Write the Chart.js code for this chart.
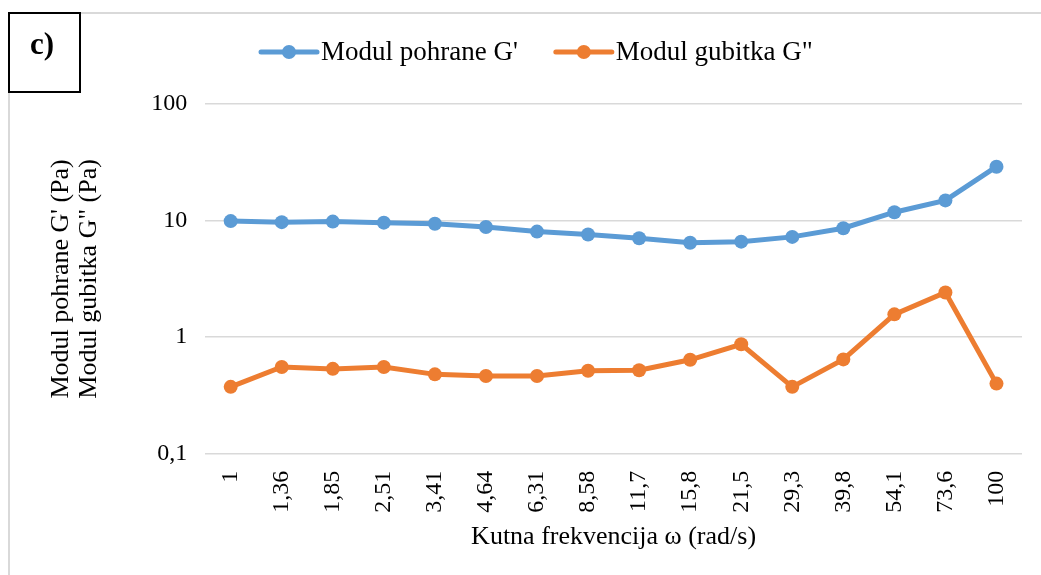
<!DOCTYPE html>
<html>
<head>
<meta charset="utf-8">
<script src="https://cdn.jsdelivr.net/npm/chart.js@4.4.1/dist/chart.umd.min.js"></script>
<style>
  body { margin: 0; background: #fff; }
</style>
</head>
<body>
<canvas id="reologija" width="1041" height="575"></canvas>
<script>
// kutna frekvencija (rad/s) - kategorije na x osi
frekvencije = ['1', '1,36', '1,85', '2,51', '3,41', '4,64', '6,31', '8,58', '11,7', '15,8', '21,5', '29,3', '39,8', '54,1', '73,6', '100']

// G' - modul pohrane (Pa), ocitano sa slike
modulPohrane = [9.9, 9.7, 9.8, 9.6, 9.4, 8.8, 8.05, 7.6, 7.05, 6.45, 6.6, 7.25, 8.6, 11.8, 14.9, 29]

// G" - modul gubitka (Pa)
modulGubitka = [0.375, 0.555, 0.535, 0.555, 0.48, 0.465, 0.465, 0.515, 0.52, 0.64, 0.87, 0.375, 0.645, 1.57, 2.42, 0.4]

// oznake na y osi (log skala)
yTickValues = [0.1, 1, 10, 100]
yTickLabels = ['0,1', '1', '10', '100']

font = '"Liberation Serif", "Times New Roman", serif'

// okvir grafa i oznaka "c)"
okvirPlugin = {
  id: 'okvir',
  beforeDraw(chart) {
    ctx = chart.ctx
    ctx.save()
    ctx.fillStyle = '#fff'
    ctx.fillRect(0, 0, chart.width, chart.height)
    ctx.strokeStyle = '#d9d9d9'
    ctx.lineWidth = 2
    ctx.strokeRect(9, 13, 1200, 800)
    ctx.restore()
  },
  afterDraw(chart) {
    ctx = chart.ctx
    ctx.save()
    ctx.fillStyle = '#fff'
    ctx.fillRect(8, 12, 73, 81)
    ctx.strokeStyle = '#000'
    ctx.lineWidth = 2
    ctx.strokeRect(9, 13, 71, 79)
    ctx.fillStyle = '#000'
    ctx.font = 'bold 31px ' + font
    ctx.textAlign = 'center'
    ctx.textBaseline = 'middle'
    ctx.fillText('c)', 42, 46)
    ctx.restore()
  }
}

// legenda kao u Excelu: linija s kruzicem pa tekst
legendaPlugin = {
  id: 'legenda',
  afterDraw(chart) {
    ctx = chart.ctx
    ctx.save()
    ctx.font = '27px ' + font
    ctx.textBaseline = 'middle'
    x = 261
    y = 52
    chart.data.datasets.forEach(ds => {
      ctx.strokeStyle = ds.borderColor
      ctx.lineWidth = 5
      ctx.lineCap = 'round'
      ctx.beginPath()
      ctx.moveTo(x, y)
      ctx.lineTo(x + 56, y)
      ctx.stroke()
      ctx.fillStyle = ds.borderColor
      ctx.beginPath()
      ctx.arc(x + 28, y, 7, 0, Math.PI * 2)
      ctx.fill()
      ctx.fillStyle = '#000'
      ctx.fillText(ds.label, x + 60, y + 1)
      x += 60 + ctx.measureText(ds.label).width + 38
    })
    ctx.restore()
  }
}

chartdata = {
  labels: frekvencije,
  datasets: [{
    label: "Modul pohrane G'",
    data: modulPohrane,
    borderColor: '#5b9bd5',
    backgroundColor: '#5b9bd5',
    borderWidth: 5,
    pointRadius: 7,
    pointBorderWidth: 0,
    pointBackgroundColor: '#5b9bd5'
  }, {
    label: 'Modul gubitka G"',
    data: modulGubitka,
    borderColor: '#ed7d31',
    backgroundColor: '#ed7d31',
    borderWidth: 5,
    pointRadius: 7,
    pointBorderWidth: 0,
    pointBackgroundColor: '#ed7d31'
  }]
}

config = {
  type: 'line',
  data: chartdata,
  plugins: [okvirPlugin, legendaPlugin],
  options: {
    responsive: false,
    animation: false,
    layout: { padding: { top: 104, left: 47, right: 19, bottom: 22 } },
    plugins: {
      legend: { display: false },
      tooltip: { enabled: false }
    },
    scales: {
      x: {
        offset: true,
        grid: { display: false },
        border: { display: false },
        ticks: {
          autoSkip: false,
          minRotation: 90,
          maxRotation: 90,
          padding: 9,
          color: '#000',
          font: { family: font, size: 24 }
        },
        title: {
          display: true,
          text: 'Kutna frekvencija ω (rad/s)',
          color: '#000',
          padding: { top: 0, bottom: 0 },
          font: { family: font, size: 26 }
        }
      },
      y: {
        type: 'logarithmic',
        min: 0.1,
        max: 100,
        afterBuildTicks: axis => {
          axis.ticks = yTickValues.map(v => ({ value: v }))
        },
        grid: { color: '#d9d9d9', lineWidth: 1.5, drawTicks: false },
        border: { display: false },
        ticks: {
          padding: 18,
          color: '#000',
          font: { family: font, size: 24 },
          callback: (v) => yTickLabels[yTickValues.indexOf(v)]
        },
        title: {
          display: true,
          text: ["Modul pohrane G' (Pa)", 'Modul gubitka G" (Pa)'],
          color: '#000',
          padding: { top: 0, bottom: 30 },
          font: { family: font, size: 26, lineHeight: 1.08 }
        }
      }
    }
  }
}

var myChart = new Chart(document.getElementById('reologija'), config)
</script>
</body>
</html>
